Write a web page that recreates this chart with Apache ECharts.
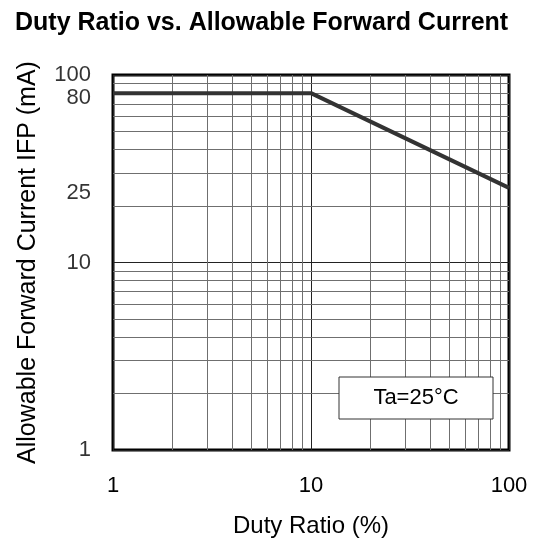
<!DOCTYPE html>
<html>
<head>
<meta charset="utf-8">
<script src="https://cdn.jsdelivr.net/npm/echarts@6/dist/echarts.min.js"></script>
<style>
  html, body { margin: 0; padding: 0; background: #fff; }
  #main { width: 536px; height: 543px; }
</style>
</head>
<body>
<div id="main"></div>
<script>
// duty ratio (%) / allowable forward current IFP (mA)
var dutyRatio = [1, 10, 100];
var forwardCurrent = [80, 80, 25];

// log grid minor lines
var xMinorGrid = [2, 3, 4, 5, 6, 7, 8, 9, 20, 30, 40, 50, 60, 70, 80, 90];
var yMinorGrid = [2, 3, 4, 5, 6, 7, 8, 9, 20, 30, 40, 50, 60, 70, 80, 90];

// tick labels on the Y side
var yTickLabels = [1, 10, 25, 80, 100];

var fontFamily = '"Liberation Sans", Arial, sans-serif';

var minorLines = [];
xMinorGrid.forEach(function (v) { minorLines.push({ xAxis: v }); });
yMinorGrid.forEach(function (v) { minorLines.push({ yAxis: v }); });

// labels that are not decades sit a little lower in the original
var yLabelData = yTickLabels.map(function (v) {
    var decade = Math.log10(v) % 1 === 0;
    return { value: [1, v], label: { offset: [0, decade ? 0 : 5] } };
});

var myChart = echarts.init(document.getElementById('main'));
var option = {
    backgroundColor: '#fff',
    animation: false,
    title: {
        text: 'Duty Ratio vs. Allowable Forward Current',
        left: 10,
        top: 6,
        textStyle: {
            fontFamily: fontFamily,
            fontSize: 25,
            fontWeight: 'bold',
            color: '#000'
        }
    },
    grid: {
        left: 113,
        right: 27,
        top: 75,
        bottom: 92,
        show: true,
        borderColor: '#000',
        borderWidth: 3,
        backgroundColor: '#fff'
    },
    xAxis: {
        type: 'log',
        logBase: 10,
        min: 1,
        max: 100,
        name: 'Duty Ratio (%)',
        nameLocation: 'middle',
        nameGap: 64,
        nameTextStyle: { fontFamily: fontFamily, fontSize: 24, color: '#000' },
        axisLine: { show: false },
        axisTick: { show: false },
        axisLabel: { fontFamily: fontFamily, fontSize: 22, color: '#000', margin: 25 },
        splitLine: { show: true, lineStyle: { color: '#222', width: 1 } }
    },
    yAxis: {
        type: 'log',
        logBase: 10,
        min: 1,
        max: 100,
        name: 'Allowable Forward Current IFP (mA)',
        nameLocation: 'middle',
        nameGap: 72,
        nameTextStyle: { fontFamily: fontFamily, fontSize: 25, color: '#000' },
        axisLine: { show: false },
        axisTick: { show: false },
        axisLabel: { show: false },
        splitLine: { show: true, lineStyle: { color: '#222', width: 1 } }
    },
    graphic: [{
        type: 'rect',
        z: 100,
        shape: { x: 339, y: 377, width: 154, height: 42 },
        style: { fill: '#fff', stroke: '#333', lineWidth: 1 }
    }, {
        type: 'text',
        z: 101,
        x: 416,
        y: 398,
        style: {
            text: 'Ta=25°C',
            font: '22px ' + fontFamily,
            fill: '#000',
            align: 'center',
            verticalAlign: 'middle'
        }
    }],
    series: [
        {
            // minor grid
            type: 'line',
            data: [],
            silent: true,
            z: 1,
            markLine: {
                silent: true,
                symbol: ['none', 'none'],
                label: { show: false },
                lineStyle: { color: '#6f6f6f', width: 1, type: 'solid' },
                data: minorLines
            }
        },
        {
            type: 'line',
            data: dutyRatio.map(function (d, i) { return [d, forwardCurrent[i]]; }),
            showSymbol: false,
            lineStyle: { color: '#333', width: 4 },
            z: 5
        },
        {
            // y tick labels (1, 10, 25, 80, 100)
            type: 'scatter',
            data: yLabelData,
            symbolSize: 0,
            itemStyle: { color: 'transparent' },
            silent: true,
            label: {
                show: true,
                position: 'left',
                distance: 22,
                fontFamily: fontFamily,
                fontSize: 22,
                color: '#000',
                formatter: function (p) { return p.value[1]; }
            }
        }
    ]
};
myChart.setOption(option);
</script>
</body>
</html>
